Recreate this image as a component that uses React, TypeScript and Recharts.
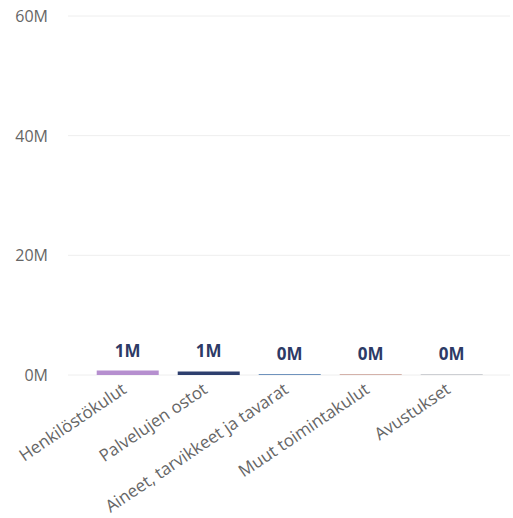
import { BarChart, Bar, XAxis, YAxis, CartesianGrid, Cell, LabelList } from 'recharts'

const categories = [
  'Henkilöstökulut',
  'Palvelujen ostot',
  'Aineet, tarvikkeet ja tavarat',
  'Muut toimintakulut',
  'Avustukset',
]
const amounts = [750000, 600000, 150000, 120000, 100000]
const barColors = ['#b68fcf', '#2e3f6e', '#6f93bd', '#c99b90', '#a3a8b0']
const yTicks = [0, 20000000, 40000000, 60000000]

const data = categories.map((name, i) => ({ name, value: amounts[i] }))

const fmtM = (v: number) => `${Math.round(v / 1000000)}M`
const font = '"Segoe UI", "Open Sans", sans-serif'

function YTick(props: any) {
  const { y, payload } = props
  return (
    <text x={48} y={y} dy={6} textAnchor="end" fill="#666" fontSize={16} fontFamily={font}>
      {fmtM(payload.value)}
    </text>
  )
}

function XTick(props: any) {
  const { x, y, payload } = props
  return (
    <g transform={`translate(${x - 6},${y})`}>
      <text x={0} y={0} dy={11} textAnchor="end" fill="#666" fontSize={17} fontFamily={font} transform="rotate(-34)">
        {payload.value}
      </text>
    </g>
  )
}

export default function App() {
  return (
    <div style={{ position: 'absolute', left: 0, top: 0, background: '#fff' }}>
      <BarChart
        width={513}
        height={518}
        data={data}
        margin={{ top: 16, right: 3, left: 0, bottom: 0 }}
        barCategoryGap="12%"
      >
        <CartesianGrid vertical={false} stroke="#eeeeee" />
        <XAxis
          dataKey="name"
          interval={0}
          tick={<XTick />}
          tickLine={false}
          axisLine={false}
          height={143}
          padding={{ left: 19, right: 18 }}
        />
        <YAxis
          domain={[0, 60000000]}
          ticks={yTicks}
          tick={<YTick />}
          tickLine={false}
          axisLine={false}
          width={68}
        />
        <Bar dataKey="value" isAnimationActive={false}>
          {data.map((d, i) => (
            <Cell key={d.name} fill={barColors[i]} />
          ))}
          <LabelList
            dataKey="value"
            position="top"
            offset={14}
            formatter={(v: any) => fmtM(Number(v))}
            fill="#2d3a66"
            fontSize={17}
            fontWeight="bold"
            fontFamily={font}
          />
        </Bar>
      </BarChart>
    </div>
  )
}
